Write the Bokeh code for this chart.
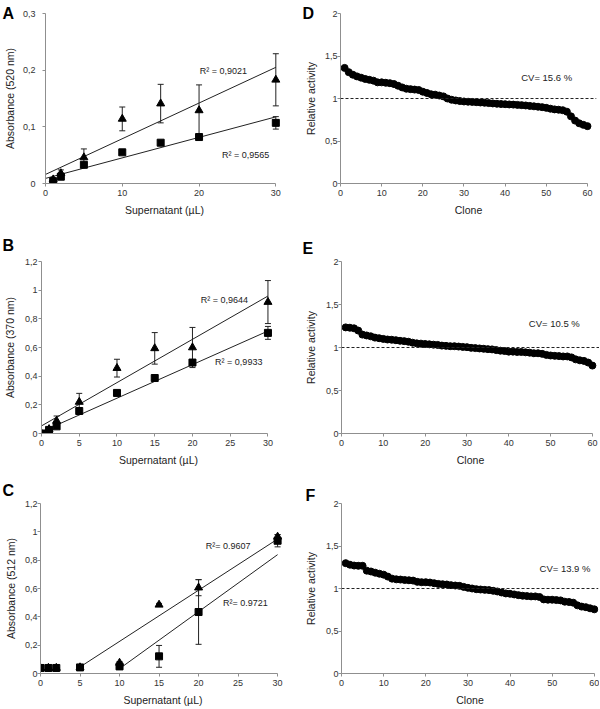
from bokeh.plotting import figure
from bokeh.models import Range1d, FixedTicker, Label, Span, Whisker, TeeHead, ColumnDataSource
from bokeh.layouts import column, row
from bokeh.embed import file_html
from bokeh.resources import INLINE

FONT = "Liberation Sans"

# ---------------- data ----------------
# Panel A (520 nm)
x_A = [1, 2, 5, 10, 15, 20, 30]
tri_A = [0.007, 0.018, 0.046, 0.114, 0.141, 0.129, 0.183]
tri_A_err = [0.003, 0.006, 0.015, 0.021, 0.034, 0.045, 0.046]
sq_A = [0.004, 0.012, 0.033, 0.055, 0.072, 0.082, 0.107]
sq_A_err = [0.002, 0.003, 0.004, 0.003, 0.003, 0.003, 0.011]
fit_A_tri = (0.016, 0.0063)      # intercept, slope
fit_A_sq = (0.009, 0.00362)
fit_A_range = [0, 30]
r2_A = ["R² = 0,9021", "R² = 0,9565"]
r2_A_pos = [(20.1, 0.199), (23.0, 0.051)]

# Panel B (370 nm)
x_B = [0, 1, 2, 5, 10, 15, 20, 30]
tri_B = [0.0, 0.03, 0.088, 0.22, 0.456, 0.594, 0.60, 0.917]
tri_B_err = [0.0, 0.01, 0.034, 0.06, 0.062, 0.11, 0.14, 0.15]
sq_B = [0.0, 0.025, 0.05, 0.157, 0.283, 0.387, 0.495, 0.702]
sq_B_err = [0.0, 0.005, 0.01, 0.01, 0.01, 0.01, 0.02, 0.045]
fit_B_tri = (0.053, 0.0302)
fit_B_sq = (0.012, 0.02343)
fit_B_range = [0, 30]
r2_B = ["R² = 0,9644", "R² = 0,9933"]
r2_B_pos = [(21.1, 0.928), (23.0, 0.50)]

# Panel C (512 nm)
x_C = [0, 1, 2, 5, 10, 15, 20, 30]
tri_C = [0.039, 0.039, 0.039, 0.043, 0.075, 0.485, 0.606, 0.965]
tri_C_err = [0.0, 0.0, 0.0, 0.0, 0.01, 0.01, 0.057, 0.015]
sq_C = [0.039, 0.039, 0.039, 0.043, 0.05, 0.121, 0.434, 0.937]
sq_C_err = [0.003, 0.003, 0.003, 0.004, 0.01, 0.077, 0.228, 0.043]
fit_C_tri = (-0.1346, 0.03612)
fit_C_tri_range = [5, 30]
fit_C_sq = (-0.3685, 0.04025)
fit_C_sq_range = [10, 30]
r2_C = ["R²= 0.9607", "R²= 0.9721"]
r2_C_pos = [(20.9, 0.90), (23.1, 0.50)]

# Panels D-F (relative activity of 60 clones)
clone = list(range(1, 61))
act_D = [1.36, 1.31, 1.28, 1.26, 1.245, 1.23, 1.22, 1.21, 1.19, 1.19,
         1.185, 1.18, 1.17, 1.15, 1.13, 1.115, 1.11, 1.105, 1.10, 1.08,
         1.065, 1.05, 1.045, 1.035, 1.025, 1.0, 0.985, 0.977, 0.97, 0.965,
         0.962, 0.96, 0.957, 0.953, 0.95, 0.946, 0.942, 0.938, 0.935, 0.933,
         0.93, 0.928, 0.925, 0.922, 0.918, 0.913, 0.908, 0.903, 0.898, 0.89,
         0.88, 0.872, 0.868, 0.862, 0.845, 0.79, 0.74, 0.708, 0.69, 0.675]
act_E = [1.234, 1.23, 1.223, 1.197, 1.15, 1.14, 1.13, 1.115, 1.108, 1.10,
         1.093, 1.09, 1.085, 1.078, 1.074, 1.067, 1.056, 1.048, 1.045, 1.041,
         1.037, 1.033, 1.03, 1.022, 1.019, 1.015, 1.015, 1.011, 1.007, 1.004,
         0.996, 0.993, 0.989, 0.985, 0.981, 0.978, 0.97, 0.963, 0.959, 0.952,
         0.952, 0.948, 0.948, 0.944, 0.94, 0.933, 0.933, 0.926, 0.914, 0.907,
         0.903, 0.90, 0.896, 0.896, 0.885, 0.862, 0.851, 0.844, 0.825, 0.79]
act_F = [1.298, 1.28, 1.27, 1.267, 1.267, 1.21, 1.20, 1.186, 1.174, 1.163,
         1.14, 1.116, 1.108, 1.105, 1.10, 1.097, 1.093, 1.078, 1.074, 1.074,
         1.07, 1.062, 1.054, 1.05, 1.047, 1.039, 1.035, 1.031, 1.019, 1.008,
         1.0, 0.992, 0.988, 0.984, 0.981, 0.973, 0.965, 0.953, 0.942, 0.938,
         0.93, 0.922, 0.915, 0.911, 0.907, 0.907, 0.90, 0.872, 0.868, 0.868,
         0.864, 0.86, 0.845, 0.841, 0.833, 0.802, 0.787, 0.78, 0.767, 0.755]
cv_text = ["CV= 15.6 %", "CV= 10.5 %", "CV= 13.9 %"]
cv_pos = [(43.9, 1.245), (44.8, 1.278), (47.0, 1.233)]

# ticks
ticks_x_A = [0, 10, 20, 30]
ticks_x_BC = [0, 5, 10, 15, 20, 25, 30]
ticks_y_A = [0, 0.1, 0.2, 0.3]
labels_y_A = ["0", "0,1", "0,2", "0,3"]
ticks_y_BC = [0, 0.2, 0.4, 0.6, 0.8, 1.0, 1.2]
labels_y_BC = ["0", "0,2", "0,4", "0,6", "0,8", "1", "1,2"]
ticks_x_D = [0, 10, 20, 30, 40, 50, 60]
ticks_y_D = [0, 0.5, 1.0, 1.5, 2.0]
labels_y_D = ["0", "0,5", "1", "1,5", "2"]

AXIS_COL = "#8f8f8f"
LETTER_TEXT_H = 20  # approx. height of the 16px bold letter box incl. 2px


def make_fig(width, height, mb, x_end, x_bound, y_end, xticks, yticks, ylabels,
             xlabel, ylabel, letter, letter_dx, letter_dy, ylab_so, ytitle_so):
    left, right, top, bottom = mb
    p = figure(width=width, height=height, x_range=Range1d(0, x_end),
               y_range=Range1d(0, y_end), output_backend="svg",
               toolbar_location=None, min_border_left=left,
               min_border_right=right, min_border_top=top,
               min_border_bottom=bottom)
    p.xgrid.visible = False
    p.ygrid.visible = False
    p.outline_line_color = None
    p.background_fill_color = "white"
    p.border_fill_color = "white"
    for ax in (p.xaxis[0], p.yaxis[0]):
        ax.axis_line_color = AXIS_COL
        ax.major_tick_line_color = AXIS_COL
        ax.minor_tick_line_color = None
        ax.major_tick_out = 3
        ax.major_tick_in = 0
        ax.major_label_text_font = FONT
        ax.major_label_text_font_size = "9px"
        ax.major_label_text_color = "#333333"
        ax.axis_label_text_font = FONT
        ax.axis_label_text_font_size = "10.5px"
        ax.axis_label_text_font_style = "normal"
        ax.axis_label_text_color = "#222222"
    p.xaxis.major_label_standoff = 3
    p.xaxis.axis_label_standoff = 5
    p.yaxis.major_label_standoff = ylab_so
    p.yaxis.axis_label_standoff = ytitle_so
    p.xaxis.bounds = (0, x_bound)
    p.xaxis.ticker = FixedTicker(ticks=xticks)
    p.yaxis.ticker = FixedTicker(ticks=yticks)
    p.yaxis.major_label_overrides = {t: l for t, l in zip(yticks, ylabels)}
    p.xaxis.axis_label = xlabel
    p.yaxis.axis_label = ylabel
    # panel letter as the plot title, centred letter_dy px above the frame top
    p.title.text = letter
    p.title.align = "left"
    p.title.offset = letter_dx
    p.title.vertical_align = "middle"
    p.title.standoff = 2 * letter_dy - LETTER_TEXT_H
    p.title.text_font = FONT
    p.title.text_font_size = "16px"
    p.title.text_font_style = "bold"
    p.title.text_color = "black"
    return p


def add_series(p, x, y, err, marker, size):
    src = ColumnDataSource(dict(x=x, upper=[a + b for a, b in zip(y, err)],
                                lower=[a - b for a, b in zip(y, err)]))
    p.add_layout(Whisker(source=src, base="x", upper="upper", lower="lower",
                         line_color="#222222", line_width=1,
                         upper_head=TeeHead(size=6, line_color="#222222", line_width=1),
                         lower_head=TeeHead(size=6, line_color="#222222", line_width=1)))
    p.scatter(x, y, marker=marker, size=size, color="black")


def add_fit(p, fit, xr):
    a, b = fit
    p.line(xr, [a + b * v for v in xr], line_color="#222222", line_width=1)


def add_text(p, txt, pos, size="9px"):
    p.add_layout(Label(x=pos[0], y=pos[1], text=txt, text_font=FONT,
                       text_font_size=size, text_baseline="middle",
                       text_align="left", text_color="#222222"))


SUP = "Supernatant (µL)"

# left column (width 300)
pA = make_fig(300, 228, (45, 17, 13, 45), 31, 30, 0.3, ticks_x_A, ticks_y_A, labels_y_A,
              SUP, "Absorbance (520 nm)", "A", -43, 0, 7, 4)
add_fit(pA, fit_A_tri, fit_A_range)
add_fit(pA, fit_A_sq, fit_A_range)
add_series(pA, x_A, tri_A, tri_A_err, "triangle", 8)
add_series(pA, x_A, sq_A, sq_A_err, "square", 7)
for t, pos in zip(r2_A, r2_A_pos):
    add_text(pA, t, pos)

pB = make_fig(300, 240, (41, 25, 33, 34), 31, 30, 1.2, ticks_x_BC, ticks_y_BC, labels_y_BC,
              SUP, "Absorbance (370 nm)", "B", -39, 16.5, 1, 6)
add_fit(pB, fit_B_tri, fit_B_range)
add_fit(pB, fit_B_sq, fit_B_range)
add_series(pB, x_B, tri_B, tri_B_err, "triangle", 8)
add_series(pB, x_B, sq_B, sq_B_err, "square", 7)
for t, pos in zip(r2_B, r2_B_pos):
    add_text(pB, t, pos)

pC = make_fig(300, 240, (40, 15, 30, 35), 31, 30, 1.2, ticks_x_BC, ticks_y_BC, labels_y_BC,
              SUP, "Absorbance (512 nm)", "C", -38, 14, 0, 5)
add_fit(pC, fit_C_tri, fit_C_tri_range)
add_fit(pC, fit_C_sq, fit_C_sq_range)
add_series(pC, x_C, tri_C, tri_C_err, "triangle", 8)
add_series(pC, x_C, sq_C, sq_C_err, "square", 7)
for t, pos in zip(r2_C, r2_C_pos):
    add_text(pC, t, pos)


def clone_fig(height, mb, x_end, vals, letter, ldx, ldy, cv, cvpos, ytso):
    p = make_fig(299, height, mb, x_end, 60, 2, ticks_x_D, ticks_y_D, labels_y_D,
                 "Clone", "Relative activity", letter, ldx, ldy, 0, ytso)
    p.add_layout(Span(location=1, dimension="width", line_color="#222222",
                      line_width=1, line_dash="3 2"))
    p.scatter(clone, vals, marker="circle", size=7, color="black")
    add_text(p, cv, cvpos, "9.5px")
    return p


# right column (width 299)
pD = clone_fig(228, (40, 3, 12, 44), 62.2, act_D, "D", -38, 0, cv_text[0], cv_pos[0], 5)
pE = clone_fig(240, (41, 0, 30, 32), 61.7, act_E, "E", -39, 14, cv_text[1], cv_pos[1], 6)
pF = clone_fig(240, (41, 1, 35, 33), 61.0, act_F, "F", -36, 9, cv_text[2], cv_pos[2], 6)

layout = column(row(pA, pD), row(pB, pE), row(pC, pF))

with open("out.html", "w") as f:
    f.write(file_html(layout, INLINE))
